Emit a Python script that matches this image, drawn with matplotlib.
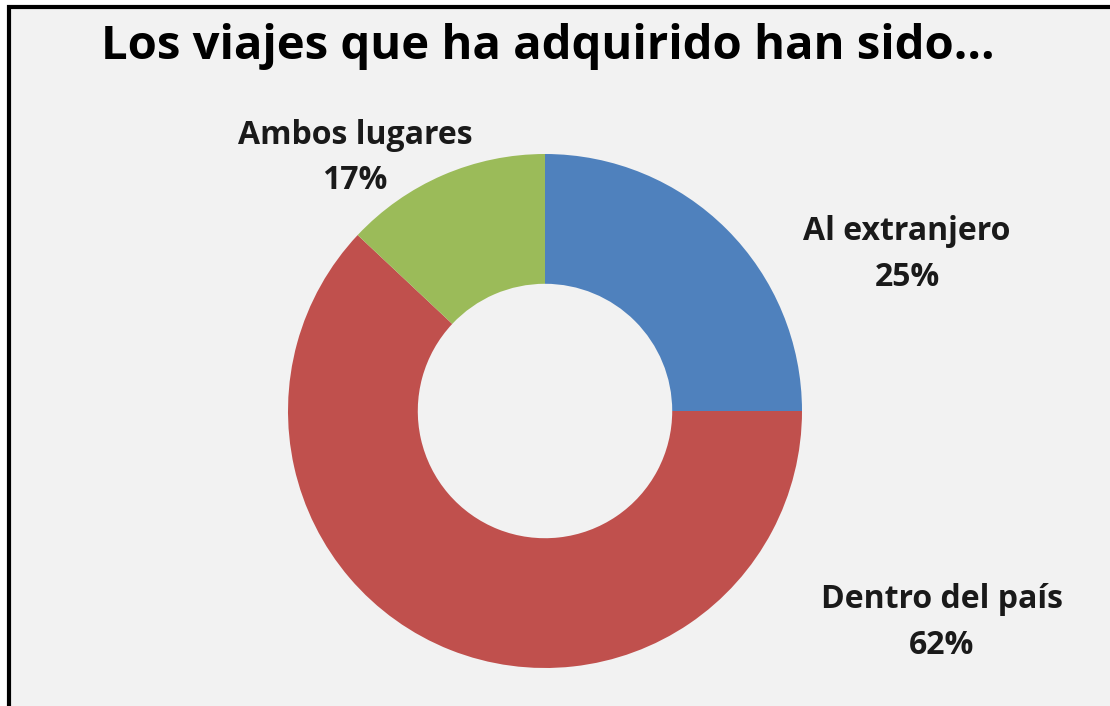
import matplotlib
matplotlib.use("Agg")
import matplotlib.pyplot as plt
from matplotlib.patches import Rectangle

categories = ["Al extranjero", "Dentro del país", "Ambos lugares"]
values = [25, 62, 13]
pct_labels = ["25%", "62%", "17%"]
colors = ["#4f81bd", "#c0504d", "#9bbb59"]
title = "Los viajes que ha adquirido han sido..."

W, H = 1110, 706
fig = plt.figure(figsize=(W / 100, H / 100), dpi=100)
fig.patch.set_facecolor("white")
bg = Rectangle((8.5 / W, -0.1), 1.2, (H - 6.5) / H + 0.1,
               transform=fig.transFigure, facecolor="#f2f2f2",
               edgecolor="black", linewidth=3, zorder=-10)
fig.patches.append(bg)

# donut centre (545, 411) radius 257 px
cx, cy, r = 545, 411, 257
ax = fig.add_axes([(cx - r) / W, (H - cy - r) / H, 2 * r / W, 2 * r / H])
ax.set_zorder(5)
ax.set_facecolor("none")
ax.pie(values, colors=colors, startangle=90, counterclock=False,
       radius=1.0, wedgeprops=dict(width=0.505, edgecolor="none"))
ax.set_xlim(-1, 1)
ax.set_ylim(-1, 1)
ax.set_aspect("auto")
ax.axis("off")

font = ["Open Sans", "DejaVu Sans"]
fig.text(548 / W, 1 - 46 / H, title, ha="center", va="center",
         fontsize=34, fontweight="bold", family=font, color="black", zorder=10)

label_pos = [(907, 232), (942, 600), (355, 135)]
for cat, pct, (x, y) in zip(categories, pct_labels, label_pos):
    fig.text(x / W, 1 - y / H, cat, ha="center", va="center",
             fontsize=23, fontweight="bold", family=font, color="#1a1a1a",
             zorder=10)
    fig.text(x / W, 1 - (y + 46) / H, pct, ha="center", va="center",
             fontsize=23, fontweight="bold", family=font, color="#1a1a1a",
             zorder=10)

fig.savefig("out.png", dpi=100, facecolor=fig.get_facecolor())
